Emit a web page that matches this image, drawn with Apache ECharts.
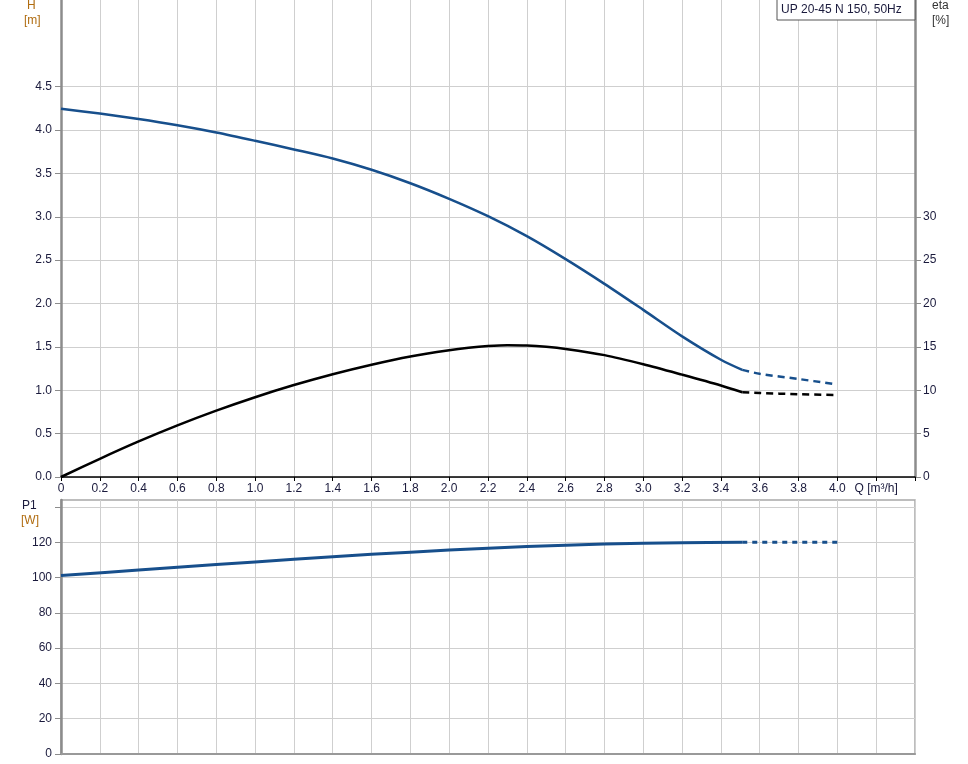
<!DOCTYPE html>
<html>
<head>
<meta charset="utf-8">
<script src="https://cdn.jsdelivr.net/npm/echarts@6/dist/echarts.min.js"></script>
<style>
html,body{margin:0;padding:0;background:#fff;}
#chart{width:968px;height:764px;}
</style>
</head>
<body>
<div id="chart"></div>
<script>
// ---- data ----
var headQ      = [0, 0.2, 0.4, 0.6, 0.8, 1.0, 1.2, 1.4, 1.6, 1.8, 2.0, 2.2, 2.4, 2.6, 2.8, 3.0, 3.2, 3.4, 3.51];
var headH      = [4.245, 4.19, 4.127, 4.055, 3.972, 3.877, 3.777, 3.672, 3.542, 3.387, 3.207, 3.007, 2.777, 2.512, 2.227, 1.927, 1.622, 1.352, 1.235];
var headDashQ  = [3.51, 3.6, 3.8, 3.98];
var headDashH  = [1.235, 1.19, 1.13, 1.073];

var etaQ       = [0, 0.2, 0.4, 0.6, 0.8, 1.0, 1.2, 1.4, 1.6, 1.8, 2.0, 2.1, 2.2, 2.3, 2.4, 2.5, 2.6, 2.8, 3.0, 3.2, 3.4, 3.51];
var etaV       = [0, 2.1, 4.1, 5.95, 7.65, 9.2, 10.6, 11.85, 12.95, 13.9, 14.62, 14.9, 15.1, 15.2, 15.17, 15.02, 14.77, 14.05, 13.0, 11.8, 10.55, 9.77];
var etaDashQ   = [3.51, 3.6, 3.8, 3.98];
var etaDashV   = [9.77, 9.69, 9.54, 9.46];

var p1Q        = [0, 0.4, 0.8, 1.2, 1.6, 2.0, 2.4, 2.8, 3.2, 3.51];
var p1V        = [101.2, 104.3, 107.4, 110.4, 113.2, 115.6, 117.6, 119.0, 119.8, 120.0];
var p1DashQ    = [3.51, 4.0];
var p1DashV    = [120.0, 120.0];

var hTicks     = [0, 0.5, 1, 1.5, 2, 2.5, 3, 3.5, 4, 4.5];
var etaTicks   = [0, 5, 10, 15, 20, 25, 30];
var p1Ticks    = [0, 20, 40, 60, 80, 100, 120, 140];

var xLabelQ    = 'Q [m³/h]';
var legendText = 'UP 20-45 N 150, 50Hz';

function pairs(xs, ys){ return xs.map(function(x,i){ return [x, ys[i]]; }); }

var FONT = 'Liberation Sans, Arial, sans-serif';
var TXT = '#1a1a3c';
var ORANGE = '#b06c10';
var GRIDC = '#cfcfcf';
var BLUE = '#174f8c';

var chart = echarts.init(document.getElementById('chart'), null, {renderer:'canvas'});

function xFmt(v){
  if (Math.abs(v - 4.2) < 1e-6) return xLabelQ;
  if (v > 4.1) return '';
  if (Math.abs(v) < 1e-9) return '0';
  return v.toFixed(1);
}

var option = {
  animation: false,
  backgroundColor: '#fff',
  textStyle: {fontFamily: FONT},
  grid: [
    {left: 61, top: 0, width: 854, height: 477, outerBoundsMode: 'none', containLabel: false},
    {left: 61, top: 500, width: 854, height: 254, outerBoundsMode: 'none', containLabel: false,
     show: true, borderColor: '#a8a8a8', borderWidth: 1.5, backgroundColor: 'transparent'}
  ],
  xAxis: [
    {type: 'value', gridIndex: 0, min: 0, max: 4.4, interval: 0.2,
     axisLine: {show: true, onZero: false, lineStyle: {color: '#000', width: 1.5}},
     axisTick: {show: true, length: 4, lineStyle: {color: '#000'}},
     axisLabel: {show: true, formatter: xFmt, color: TXT, fontSize: 12, fontFamily: FONT, margin: 6, showMinLabel: true, showMaxLabel: true},
     splitLine: {show: true, lineStyle: {color: GRIDC, width: 1}}
    },
    {type: 'value', gridIndex: 1, min: 0, max: 4.4, interval: 0.2,
     axisLine: {show: true, onZero: false, lineStyle: {color: '#999', width: 2}},
     axisTick: {show: false},
     axisLabel: {show: false},
     splitLine: {show: true, lineStyle: {color: GRIDC, width: 1}}
    }
  ],
  yAxis: [
    {type: 'value', gridIndex: 0, min: 0, max: 5.5, interval: 0.5, position: 'left',
     axisLine: {show: true, onZero: false, lineStyle: {color: '#8c8c8c', width: 2.5}},
     axisTick: {show: true, length: 6, lineStyle: {color: '#8c8c8c'}, customValues: hTicks},
     axisLabel: {color: TXT, fontSize: 12, fontFamily: FONT, margin: 9,
       formatter: function(v){ return v > 4.6 ? '' : v.toFixed(1); }},
     splitLine: {show: true, lineStyle: {color: GRIDC, width: 1}}
    },
    {type: 'value', gridIndex: 0, min: 0, max: 55, interval: 5, position: 'right',
     axisLine: {show: true, onZero: false, lineStyle: {color: '#8c8c8c', width: 2.5}},
     axisTick: {show: true, length: 6, lineStyle: {color: '#8c8c8c'}, customValues: etaTicks},
     axisLabel: {color: TXT, fontSize: 12, fontFamily: FONT, margin: 8,
       formatter: function(v){ return v > 31 ? '' : String(v); }},
     splitLine: {show: false}
    },
    {type: 'value', gridIndex: 1, min: 0, max: 144, interval: 20, position: 'left',
     axisLine: {show: true, onZero: false, lineStyle: {color: '#8c8c8c', width: 2.5}},
     axisTick: {show: true, length: 6, lineStyle: {color: '#8c8c8c'}, customValues: p1Ticks},
     axisLabel: {color: TXT, fontSize: 12, fontFamily: FONT, margin: 9,
       formatter: function(v){ return (v > 125 || v % 20 !== 0) ? '' : String(v); }},
     splitLine: {show: true, lineStyle: {color: GRIDC, width: 1}}
    }
  ],
  series: [
    {type: 'line', xAxisIndex: 0, yAxisIndex: 0, data: pairs(headQ, headH), smooth: 0.3,
     showSymbol: false, symbol: 'none', lineStyle: {color: BLUE, width: 2.5}, z: 5},
    {type: 'line', xAxisIndex: 0, yAxisIndex: 0, data: pairs(headDashQ, headDashH), smooth: 0.3,
     showSymbol: false, symbol: 'none', lineStyle: {color: BLUE, width: 2.5, type: [7, 5]}, z: 5},
    {type: 'line', xAxisIndex: 0, yAxisIndex: 1, data: pairs(etaQ, etaV), smooth: 0.3,
     showSymbol: false, symbol: 'none', lineStyle: {color: '#000', width: 2.5}, z: 5},
    {type: 'line', xAxisIndex: 0, yAxisIndex: 1, data: pairs(etaDashQ, etaDashV), smooth: 0.3,
     showSymbol: false, symbol: 'none', lineStyle: {color: '#000', width: 2.5, type: [7, 5]}, z: 5},
    {type: 'line', xAxisIndex: 1, yAxisIndex: 2, data: pairs(p1Q, p1V), smooth: 0.3,
     showSymbol: false, symbol: 'none', lineStyle: {color: BLUE, width: 3}, z: 5},
    {type: 'line', xAxisIndex: 1, yAxisIndex: 2, data: pairs(p1DashQ, p1DashV),
     showSymbol: false, symbol: 'none', lineStyle: {color: BLUE, width: 3, type: [5, 5]}, z: 5}
  ],
  graphic: [
    {type: 'text', left: 27, top: 0, style: {text: 'H', fill: ORANGE, font: '12px ' + FONT}},
    {type: 'text', left: 24, top: 15, style: {text: '[m]', fill: ORANGE, font: '12px ' + FONT}},
    {type: 'text', left: 932, top: 0, style: {text: 'eta', fill: '#333', font: '12px ' + FONT}},
    {type: 'text', left: 932, top: 15, style: {text: '[%]', fill: '#333', font: '12px ' + FONT}},
    {type: 'text', left: 22, top: 500, style: {text: 'P1', fill: TXT, font: '12px ' + FONT}},
    {type: 'text', left: 21, top: 515, style: {text: '[W]', fill: ORANGE, font: '12px ' + FONT}},
    {type: 'rect', shape: {x: 777, y: -1, width: 138, height: 21},
     style: {fill: '#fff', stroke: '#555', lineWidth: 1}, z: 100},
    {type: 'text', x: 781, y: 4, z: 101, style: {text: legendText, fill: TXT, font: '12px ' + FONT}}
  ]
};
chart.setOption(option);
</script>
</body>
</html>
